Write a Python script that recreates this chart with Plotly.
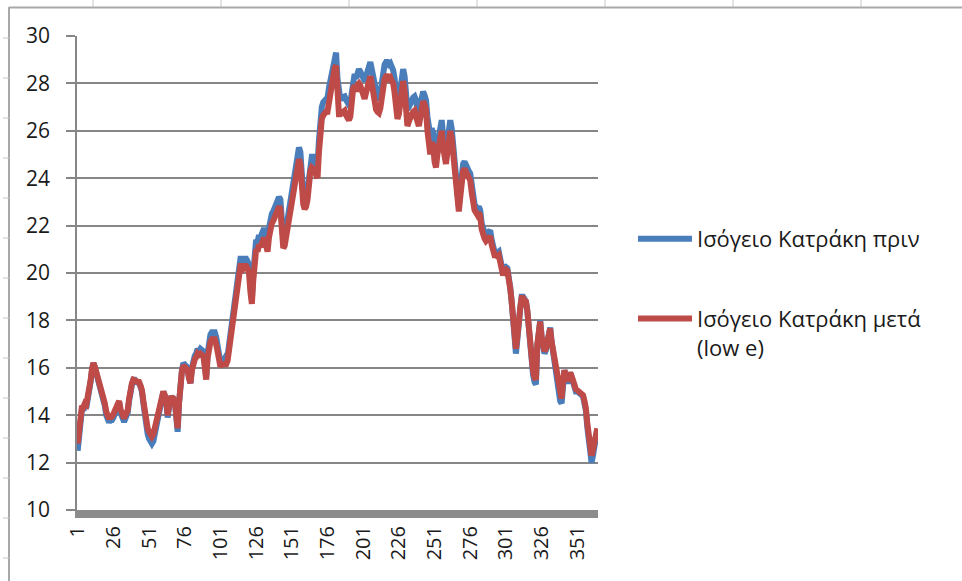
import plotly.graph_objects as go

# Daily indoor temperature (°C), days 1..365
DAYS = list(range(1, 366))

BEFORE = [
    12.5, 13.2, 14.0, 14.3, 14.2, 14.4, 14.3, 14.6, 14.9, 15.4,
    15.9, 16.2, 16.0, 15.8, 15.6, 15.3, 15.15, 15.0, 14.7, 14.4,
    14.0, 13.7, 13.7, 13.8, 13.8, 13.9, 14.1, 14.3, 14.5, 14.55,
    14.1, 13.9, 13.8, 13.8, 13.9, 14.1, 14.6, 15.1, 15.3, 15.5,
    15.5, 15.4, 15.4, 15.35, 15.2, 15.0, 14.5, 13.9, 13.5, 13.2,
    13.0, 12.9, 12.8, 12.9, 13.2, 13.6, 13.9, 14.2, 14.5, 14.8,
    15.0, 14.8, 14.6, 13.9, 14.4, 14.8, 14.7, 14.7, 14.6, 13.8,
    13.3, 14.5, 15.5, 15.9, 16.2, 16.1, 16.1, 16.0, 15.6, 15.35,
    16.0, 16.45, 16.5, 16.6, 16.8, 16.7, 16.8, 16.75, 16.7, 16.2,
    15.6, 16.6, 17.3, 17.4, 17.5, 17.5, 17.5, 17.3, 16.9, 16.4,
    16.2, 16.3, 16.3, 16.4, 16.3, 16.5, 17.0, 17.3, 17.8, 18.2,
    18.7, 19.2, 19.6, 20.2, 20.6, 20.6, 20.5, 20.6, 20.6, 20.5,
    20.3, 19.5, 18.9, 20.0, 21.3, 21.4, 21.3, 21.6, 21.5, 21.7,
    21.8, 21.8, 21.6, 21.3, 21.9, 22.3, 22.5, 22.6, 22.8, 22.95,
    23.0, 23.2, 23.1, 22.4, 21.4, 21.5, 21.9, 22.3, 22.8, 23.2,
    23.6, 23.9, 24.1, 24.5, 24.8, 25.3, 25.1, 23.8, 23.3, 23.1,
    23.2, 23.5, 24.2, 24.7, 24.9, 24.9, 24.8, 24.6, 24.5, 25.6,
    26.6, 27.0, 27.2, 27.3, 27.4, 27.4, 27.8, 28.1, 28.5, 29.0,
    29.2, 29.3, 28.2, 27.3, 27.3, 27.4, 27.4, 27.45, 27.3, 27.2,
    27.1, 27.2, 27.8, 28.3, 28.4, 28.2, 28.5, 28.6, 28.5, 28.3,
    28.2, 28.1, 28.3, 28.6, 28.7, 28.9, 28.6, 28.2, 27.85, 27.6,
    27.4, 27.3, 27.5, 28.0, 28.5, 28.8, 28.9, 28.9, 28.8, 28.85,
    28.7, 28.55, 28.2, 27.5, 27.0, 27.3, 27.7, 28.2, 28.6, 28.3,
    27.5, 26.9, 27.0, 27.2, 27.3, 27.4, 27.45, 27.3, 26.9, 26.7,
    27.1, 27.5, 27.65, 27.5, 27.3, 26.6, 25.9, 25.8, 26.1, 25.9,
    25.1, 24.8, 25.4, 25.9, 26.2, 26.45, 25.8, 25.0, 24.9, 25.5,
    26.2, 26.45, 26.1, 25.5, 24.7, 24.1, 23.6, 22.8, 23.5, 24.3,
    24.6, 24.7, 24.5, 24.5, 24.3, 24.2, 23.7, 23.1, 22.9, 22.8,
    22.7, 22.8, 22.65, 22.1, 21.7, 21.7, 21.6, 21.7, 21.8, 21.8,
    21.4, 21.0, 20.9, 20.9, 20.85, 20.9, 20.6, 20.1, 20.0, 20.2,
    20.25, 20.2, 19.9, 19.4, 18.8, 18.0, 17.3, 16.6, 17.2, 18.3,
    18.5, 19.0, 19.0, 18.9, 18.8, 18.4, 17.5, 16.8, 16.0, 15.7,
    15.4, 15.3, 16.9, 17.6, 18.0, 17.3, 16.6, 16.6, 16.75, 17.2,
    17.5, 17.7, 17.1, 16.6, 16.3, 15.9, 15.4, 15.0, 14.6, 14.5,
    15.3, 15.9, 15.6, 15.35, 15.5, 15.8, 15.6, 15.3, 15.1, 15.0,
    15.0, 14.95, 14.95, 14.9, 14.8, 14.5, 14.2, 13.5, 12.8, 12.1,
    12.0, 12.3, 12.8, 13.1, 13.4,
]

AFTER = [
    12.8, 13.4, 14.1, 14.4, 14.35, 14.5, 14.45, 14.7, 15.0, 15.45,
    15.95, 16.2, 16.05, 15.85, 15.65, 15.35, 15.2, 15.05, 14.8, 14.5,
    14.15, 13.9, 13.85, 13.95, 13.95, 14.05, 14.2, 14.4, 14.55, 14.6,
    14.25, 14.05, 13.95, 13.95, 14.05, 14.2, 14.7, 15.15, 15.35, 15.5,
    15.5, 15.45, 15.4, 15.4, 15.25, 15.05, 14.6, 14.1, 13.75, 13.45,
    13.3, 13.2, 13.1, 13.2, 13.45, 13.8, 14.05, 14.3, 14.6, 14.85,
    15.0, 14.85, 14.65, 14.0, 14.45, 14.8, 14.7, 14.7, 14.6, 13.9,
    13.45, 14.55, 15.5, 15.85, 16.1, 16.0, 16.0, 15.9, 15.55, 15.35,
    15.9, 16.3, 16.35, 16.45, 16.6, 16.55, 16.6, 16.55, 16.5, 16.05,
    15.5, 16.4, 17.0, 17.1, 17.2, 17.2, 17.2, 17.0, 16.6, 16.2,
    16.05, 16.15, 16.15, 16.2, 16.15, 16.3, 16.8, 17.1, 17.6, 18.0,
    18.5, 19.0, 19.4, 19.9, 20.3, 20.3, 20.2, 20.3, 20.3, 20.2,
    20.0, 19.2, 18.7, 19.7, 20.9, 21.0, 20.9, 21.2, 21.1, 21.3,
    21.4, 21.4, 21.2, 20.9, 21.5, 21.9, 22.1, 22.2, 22.4, 22.55,
    22.6, 22.8, 22.7, 22.0, 21.05, 21.15, 21.5, 21.9, 22.4, 22.8,
    23.2, 23.5, 23.7, 24.1, 24.35, 24.8, 24.6, 23.4, 22.9, 22.7,
    22.8, 23.1, 23.8, 24.3, 24.45, 24.4, 24.35, 24.15, 24.0, 25.1,
    26.1, 26.5, 26.65, 26.75, 26.8, 26.8, 27.2, 27.5, 27.95, 28.45,
    28.65, 28.75, 27.6, 26.7, 26.7, 26.75, 26.8, 26.85, 26.65, 26.55,
    26.45, 26.6, 27.3, 27.8, 27.9, 27.65, 27.95, 28.0, 27.9, 27.7,
    27.5, 27.35, 27.6, 27.95, 28.1, 28.3, 28.0, 27.5, 27.1, 26.9,
    26.8, 26.75, 26.95, 27.45, 27.9, 28.2, 28.3, 28.3, 28.2, 28.25,
    28.1, 28.0, 27.6, 26.95, 26.5, 26.7, 27.15, 27.7, 28.1, 27.7,
    26.8, 26.2, 26.4, 26.6, 26.7, 26.8, 26.85, 26.7, 26.4, 26.2,
    26.6, 27.0, 27.25, 27.1, 26.9, 26.0, 25.1, 25.0, 25.5, 25.4,
    24.7, 24.45, 25.0, 25.5, 25.8, 26.0, 25.3, 24.7, 24.6, 25.1,
    25.8, 26.0, 25.7, 25.1, 24.3, 23.7, 23.2, 22.6, 23.2, 24.0,
    24.3, 24.4, 24.25, 24.25, 24.0, 23.9, 23.4, 22.85, 22.65, 22.55,
    22.45, 22.55, 22.4, 21.85, 21.45, 21.45, 21.35, 21.45, 21.55, 21.55,
    21.2, 20.8, 20.75, 20.75, 20.7, 20.75, 20.45, 20.0, 19.9, 20.1,
    20.15, 20.1, 19.85, 19.35, 18.8, 18.05, 17.4, 16.8, 17.3, 18.3,
    18.5, 18.95, 18.95, 18.85, 18.8, 18.4, 17.55, 16.9, 16.15, 15.85,
    15.6, 15.5, 17.0, 17.6, 17.95, 17.3, 16.7, 16.7, 16.8, 17.2,
    17.5, 17.65, 17.1, 16.7, 16.4, 16.0, 15.55, 15.15, 14.8, 14.7,
    15.4, 15.9, 15.65, 15.45, 15.55, 15.8, 15.65, 15.4, 15.2, 15.1,
    15.05, 15.0, 15.0, 14.95, 14.85, 14.6, 14.3, 13.65, 13.0, 12.35,
    12.3, 12.55, 12.95, 13.2, 13.45,
]

SERIES_NAMES = ["Ισόγειο Κατράκη πριν", "Ισόγειο Κατράκη μετά<br>(low e)"]
X_TICKS = list(range(1, 366, 25))
Y_TICKS = list(range(10, 31, 2))

W, H = 962, 581
FONT = "Open Sans"
TEXT = "#1a1a1a"
GRID = "#868686"


def px(x):
    return x / W


def py(y):
    return 1 - y / H


fig = go.Figure()
fig.add_trace(go.Scatter(
    x=DAYS, y=BEFORE, mode="lines", name=SERIES_NAMES[0], legendgroup="a",
    line=dict(color="#4a7ebb", width=6),
))
fig.add_trace(go.Scatter(
    x=DAYS, y=AFTER, mode="lines", name=SERIES_NAMES[1], legendgroup="b",
    line=dict(color="#be4b48", width=6),
))

# worksheet frame around the chart: ruler lines with small notches
shapes = [
    dict(type="line", xref="paper", yref="paper", x0=px(9), x1=1, y0=py(7.5), y1=py(7.5),
         line=dict(color="#a8a8a8", width=2)),
    dict(type="line", xref="paper", yref="paper", x0=px(9), x1=px(9), y0=py(7), y1=0,
         line=dict(color="#a8a8a8", width=2)),
]
for k in range(7):
    xx = 93 + 128 * k
    shapes.append(dict(type="line", xref="paper", yref="paper", x0=px(xx), x1=px(xx),
                       y0=py(0), y1=py(7), line=dict(color="#c8c8c8", width=1)))
for k in range(14):
    yy = 38 + 40 * k
    shapes.append(dict(type="line", xref="paper", yref="paper", x0=px(3), x1=px(9),
                       y0=py(yy), y1=py(yy), line=dict(color="#c8c8c8", width=1)))

fig.update_layout(
    width=W, height=H,
    margin=dict(l=0, r=0, t=0, b=0, autoexpand=False),
    paper_bgcolor="white", plot_bgcolor="white",
    font=dict(family=FONT, color=TEXT),
    shapes=shapes,
    showlegend=True,
    legend=dict(
        x=px(633), y=py(218), xanchor="left", yanchor="top",
        font=dict(family=FONT, size=22, color=TEXT),
        itemwidth=54, tracegroupgap=48, valign="top",
        bgcolor="rgba(0,0,0,0)",
    ),
    xaxis=dict(
        domain=[px(77), px(598)],
        range=[0.5, 365.5],
        automargin=False,
        tickmode="array", tickvals=X_TICKS, ticktext=[str(v) for v in X_TICKS],
        tickangle=-90, tickfont=dict(family=FONT, size=20, color=TEXT),
        showgrid=False, zeroline=False, ticks="",
        showline=True, linecolor="#8c8c8c", linewidth=8,
    ),
    yaxis=dict(
        domain=[py(510), py(36)],
        range=[10, 30],
        automargin=False,
        tickmode="array", tickvals=Y_TICKS,
        tickfont=dict(family=FONT, size=21, color=TEXT),
        showgrid=True, gridcolor=GRID, gridwidth=1.5,
        zeroline=False,
        showline=True, linecolor=GRID, linewidth=1.5,
        ticks="outside", ticklen=9, tickcolor=GRID, tickwidth=1.5,
        ticklabelstandoff=12,
    ),
)

fig.write_html("out.html")
